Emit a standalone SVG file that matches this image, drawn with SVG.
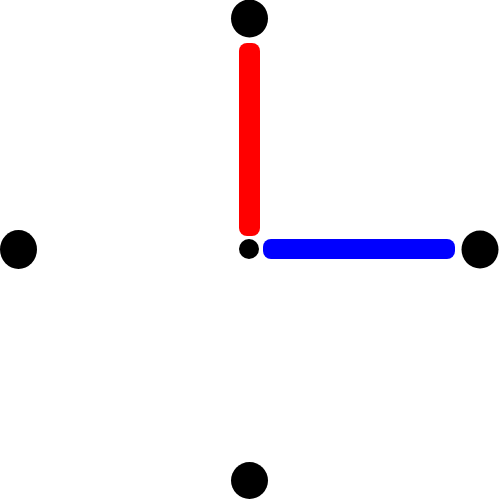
<svg xmlns="http://www.w3.org/2000/svg" width="499" height="500" viewBox="0 0 499 500">
<style>
.dot{fill:#000}
.bar{stroke:none}
</style>
<rect width="499" height="500" fill="#fff"/>
<g id="connectors">
<rect class="bar" x="239" y="43" width="21" height="193" rx="8" fill="#ff0000"/>
<rect class="bar" x="263" y="239" width="192" height="20" rx="8" fill="#0000ff"/>
</g>
<g id="node-top"><ellipse class="dot" cx="249.5" cy="18.5" rx="18.5" ry="19"/></g>
<g id="node-left"><ellipse class="dot" cx="18.5" cy="249.5" rx="18.5" ry="19.5"/></g>
<g id="node-right"><ellipse class="dot" cx="480" cy="249.5" rx="18.5" ry="19"/></g>
<g id="node-bottom"><ellipse class="dot" cx="249.5" cy="480.5" rx="18.5" ry="18.5"/></g>
<g id="node-center"><circle class="dot" cx="249" cy="249" r="10"/></g>
</svg>
